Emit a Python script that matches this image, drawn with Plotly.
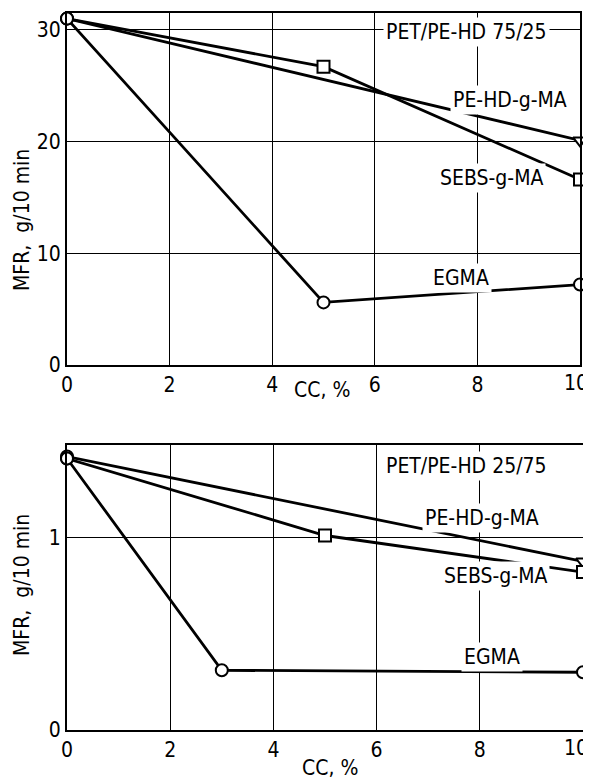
import plotly.graph_objects as go

# ---- data ----
cc_top_pehd = [0, 10]
mfr_top_pehd = [31.0, 20.1]
cc_top_sebs = [0, 5, 10]
mfr_top_sebs = [31.0, 26.7, 16.6]
cc_top_egma = [0, 5, 10]
mfr_top_egma = [31.0, 5.6, 7.2]

cc_bot_pehd = [0, 10]
mfr_bot_pehd = [1.42, 0.875]
cc_bot_sebs = [0, 5, 10]
mfr_bot_sebs = [1.41, 1.01, 0.82]
cc_bot_egma = [0, 3, 10]
mfr_bot_egma = [1.41, 0.31, 0.30]

x_ticks = [0, 2, 4, 6, 8]
x_last_tick = 10
y_ticks_top = [0, 10, 20, 30]
y_ticks_bot = [0, 1]

FONT = "DejaVu Sans Condensed, Liberation Sans Narrow, sans-serif"
FS = 21
W, H = 591, 779
OFF = 8  # page body margin offset


def px(x):
    return (x - OFF) / W


def py(y):
    return 1 - (y - OFF) / H


fig = go.Figure()

def add(x, y, symbols, xa, ya):
    fig.add_trace(go.Scatter(
        x=x, y=y, mode="lines+markers", xaxis=xa, yaxis=ya,
        line=dict(color="black", width=2.8),
        marker=dict(symbol=symbols, size=12, color="white",
                    line=dict(color="black", width=2)),
        showlegend=False, cliponaxis=False))

add(cc_top_pehd, mfr_top_pehd, ["circle", "triangle-down"], "x", "y")
add(cc_top_sebs, mfr_top_sebs, ["circle", "square", "square"], "x", "y")
add(cc_top_egma, mfr_top_egma, ["circle", "circle", "circle"], "x", "y")

add(cc_bot_pehd, mfr_bot_pehd, ["circle", "triangle-down"], "x2", "y2")
add(cc_bot_sebs, mfr_bot_sebs, ["circle", "square", "square"], "x2", "y2")
add(cc_bot_egma, mfr_bot_egma, ["circle", "circle", "circle"], "x2", "y2")

axis_common = dict(showgrid=True, gridcolor="black", gridwidth=1.2,
                   showline=True, linecolor="black", linewidth=2.2, mirror=True,
                   zeroline=False, ticks="", ticklabeloverflow="allow",
                   automargin=False,
                   tickfont=dict(family=FONT, size=FS, color="black"))

fig.update_layout(
    template="none",
    width=W, height=H,
    margin=dict(l=0, r=0, t=0, b=0, pad=0),
    paper_bgcolor="white", plot_bgcolor="white",
    font=dict(family=FONT, size=FS, color="black"),
    xaxis=dict(domain=[px(67), px(580)], range=[0, 10], tickvals=x_ticks,
               anchor="y", **axis_common),
    yaxis=dict(domain=[py(365), py(13)], range=[0, 31.5], tickvals=y_ticks_top,
               anchor="x", **axis_common),
    xaxis2=dict(domain=[px(67), px(583)], range=[0, 10], tickvals=x_ticks,
                anchor="y2", **axis_common),
    yaxis2=dict(domain=[py(730), py(445)], range=[0, 1.48], tickvals=y_ticks_bot,
                anchor="x2", **axis_common),
)

# last x tick label, nudged inside the page so it is not cut off
for xr, yr, xs in [("x", "y", 10), ("x2", "y2", 7)]:
    fig.add_annotation(text=str(x_last_tick), x=x_last_tick, y=0, xref=xr, yref=yr,
                       showarrow=False, xanchor="right", yanchor="middle",
                       xshift=xs, yshift=-18, font=dict(family=FONT, size=FS, color="black"))

def label(text, x, y, xref, yref):
    fig.add_annotation(text=text, x=x, y=y, xref=xref, yref=yref, showarrow=False,
                       xanchor="center", yanchor="middle", bgcolor="white",
                       borderpad=2, font=dict(family=FONT, size=FS, color="black"))

# top in-plot labels
label("PET/PE-HD 75/25", 7.78, 29.8, "x", "y")
label("PE-HD-g-MA", 8.63, 23.7, "x", "y")
label("SEBS-g-MA", 8.27, 16.7, "x", "y")
label("EGMA", 7.68, 7.8, "x", "y")

# bottom in-plot labels
label("PET/PE-HD 25/75", 7.75, 1.37, "x2", "y2")
label("PE-HD-g-MA", 8.04, 1.10, "x2", "y2")
label("SEBS-g-MA", 8.31, 0.80, "x2", "y2")
label("EGMA", 8.24, 0.38, "x2", "y2")

# axis titles
for (yc, xc, yx) in [(220, 322, 390), (585, 330, 768)]:
    fig.add_annotation(text="MFR,  g/10 min", x=px(22), y=py(yc), xref="paper", yref="paper",
                       xanchor="center", yanchor="middle",
                       showarrow=False, textangle=-90, font=dict(family=FONT, size=FS))
    fig.add_annotation(text="CC, %", x=px(xc), y=py(yx), xref="paper", yref="paper",
                       xanchor="center", yanchor="middle",
                       showarrow=False, font=dict(family=FONT, size=FS))

fig.write_html("out.html")
